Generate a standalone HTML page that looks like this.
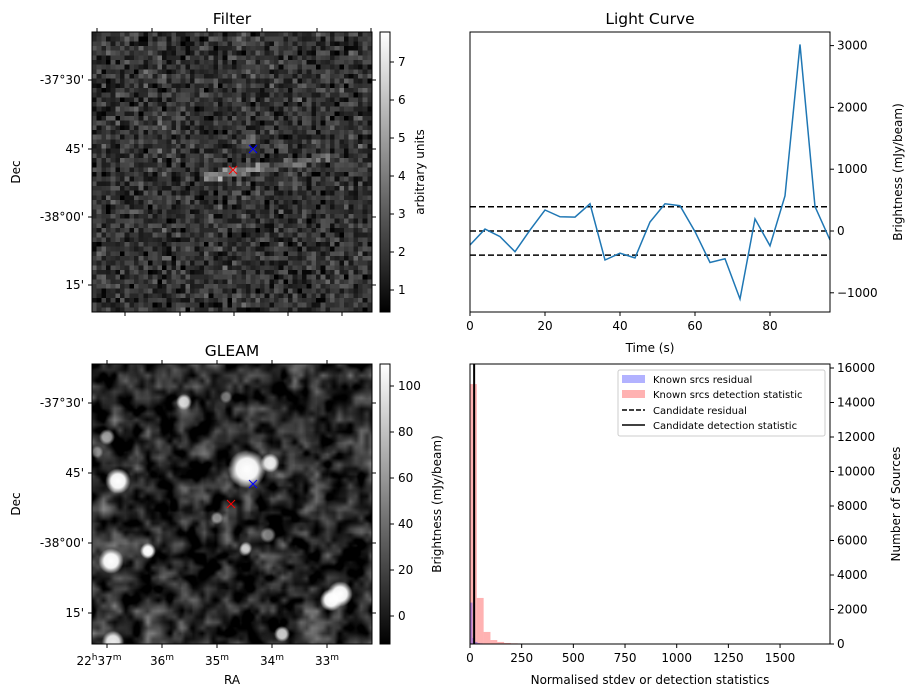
<!DOCTYPE html>
<html><head><meta charset="utf-8"><style>
body{margin:0;background:#fff;width:916px;height:699px;overflow:hidden;position:relative;font-family:"DejaVu Sans","Liberation Sans",sans-serif}
canvas{position:absolute}
svg{position:absolute;left:0;top:0}
text{font-family:"DejaVu Sans","Liberation Sans",sans-serif;fill:#000}
</style></head><body>
<canvas id="filt" width="60" height="60" style="left:92px;top:32px;width:280px;height:280px;image-rendering:pixelated"></canvas>
<canvas id="gleam" width="280" height="280" style="left:92px;top:364px;width:280px;height:280px"></canvas>
<svg id="svg" width="916" height="699">
<defs>
<linearGradient id="gray" x1="0" y1="1" x2="0" y2="0"><stop offset="0" stop-color="#000"/><stop offset="1" stop-color="#fff"/></linearGradient>
</defs>
<g id="g"></g>
</svg>
<script>
// ---- Light curve data ----
const lcTimes=[0,4,8,12,16,20,24,28,32,36,40,44,48,52,56,60,64,68,72,76,80,84,88,92,96];
const lcValues=[-226,30,-90,-335,15,340,230,225,440,-470,-360,-435,145,440,410,-10,-510,-450,-1100,195,-240,570,3020,395,-145];
const lcThresholds=[0,393,-390];
const lcYTicks=[-1000,0,1000,2000,3000];
const lcXTicks=[0,20,40,60,80];
// ---- Histogram data ----
const redBinStarts=[0,33,66,99,132,165,198,231,264,297,330,363,396,429,462,495,528,561,594,660,693,726,792,825,1056,1287,1617];
const redCounts=[15070,2670,700,230,120,60,40,30,25,20,20,20,20,20,20,20,20,20,20,20,20,20,20,20,20,20,20];
const redBinWidth=33;
const blueBinStarts=[0,12,24,36,48,60,90];
const blueCounts=[2400,350,120,60,40,30,20];
const blueBinWidth=12;
const candidateStat=20;
const histXTicks=[0,250,500,750,1000,1250,1500];
const histYTicks=[0,2000,4000,6000,8000,10000,12000,14000,16000];
const filterCbarTicks=[1,2,3,4,5,6,7];
const gleamCbarTicks=[0,20,40,60,80,100];

const NS='http://www.w3.org/2000/svg';
const G=document.getElementById('g');
function el(tag,attrs,name,inter,txt){const e=document.createElementNS(NS,tag);for(const k in attrs)e.setAttribute(k,attrs[k]);


if(txt!==undefined)e.textContent=txt;G.appendChild(e);return e;}
function line(x1,y1,x2,y2,name,extra){return el('line',Object.assign({x1,y1,x2,y2,stroke:'#000','stroke-width':1},extra||{}),name,false);}
function text(x,y,s,name,anchor,extra){return el('text',Object.assign({x,y,'text-anchor':anchor||'middle',style:'font-size:12px'},extra||{}),name,false,s);}

// ---- light curve ----
const lcX=t=>470+(t-0)*(360/96);
const lcY=v=>231-v*0.0618;
let pts=lcTimes.map((t,i)=>lcX(t).toFixed(1)+','+lcY(lcValues[i]).toFixed(1)).join(' ');
lcThresholds.forEach((v,i)=>line(470,lcY(v),830,lcY(v),'threshold-line-'+i,{'stroke-dasharray':'6,3','stroke-width':1.5}));
el('polyline',{points:pts,fill:'none',stroke:'#1f77b4','stroke-width':1.5},'light-curve-line',false);
el('rect',{x:470,y:32,width:360,height:280,fill:'none',stroke:'#000','stroke-width':1},'light-curve-frame',false);
lcXTicks.forEach(t=>{line(lcX(t),312,lcX(t),316,'x-tick');text(lcX(t),330,String(t),'x-tick-label');});
lcYTicks.forEach(v=>{line(830,lcY(v),834,lcY(v),'y-tick');text(837,lcY(v)+4,v<0?'\u22121000':String(v),'y-tick-label','start');});
text(650,24,'Light Curve','light-curve-title','middle',{style:'font-size:15.5px'});
text(650,352,'Time (s)','light-curve-x-title');
text(0,0,'Brightness (mJy/beam)','light-curve-y-title','middle',{transform:'translate(902,172) rotate(-90)'});

// ---- histogram ----
const hX=v=>470+v*0.2067;
const hY=c=>644-c*0.01725;
redBinStarts.forEach((b,i)=>el('rect',{x:hX(b),y:hY(redCounts[i]),width:redBinWidth*0.2067,height:644-hY(redCounts[i]),fill:'#ff0000','fill-opacity':0.3},'red-bar',false));
blueBinStarts.forEach((b,i)=>el('rect',{x:hX(b),y:hY(blueCounts[i]),width:blueBinWidth*0.2067,height:644-hY(blueCounts[i]),fill:'#0000ff','fill-opacity':0.3},'blue-bar',false));
line(hX(candidateStat),364,hX(candidateStat),644,'candidate-detection-line',{'stroke-width':2});
el('rect',{x:470,y:364,width:360,height:280,fill:'none',stroke:'#000'},'histogram-frame',false);
histXTicks.forEach(v=>{line(hX(v),644,hX(v),648,'x-tick');text(hX(v),662,String(v),'x-tick-label');});
histYTicks.forEach(v=>{line(830,hY(v),834,hY(v),'y-tick');text(837,hY(v)+4,String(v),'y-tick-label','start');});
text(650,684,'Normalised stdev or detection statistics','histogram-x-title');
text(0,0,'Number of Sources','histogram-y-title','middle',{transform:'translate(900,504) rotate(-90)'});
// legend
el('rect',{x:618,y:370,width:207,height:66,fill:'#fff','fill-opacity':0.8,stroke:'#ccc',rx:2},'legend-box',false);
el('rect',{x:622,y:375,width:23,height:8,fill:'#0000ff','fill-opacity':0.3},'legend-blue-patch',false);
el('rect',{x:622,y:390,width:23,height:8,fill:'#ff0000','fill-opacity':0.3},'legend-red-patch',false);
line(622,410,645,410,'legend-dashed',{'stroke-dasharray':'5,2','stroke-width':1.5});
line(622,425,645,425,'legend-solid',{'stroke-width':1.5});
[['Known srcs residual',383],['Known srcs detection statistic',398],['Candidate residual',414],['Candidate detection statistic',429]].forEach(a=>text(653,a[1],a[0],'legend-entry','start',{style:'font-size:10px'}));

// ---- image panels ----
function imgAxes(top,title,cbTicks,cbY,cbLabel,cbLabelX,bottomLabels,decOff){
 el('rect',{x:92,y:top,width:280,height:280,fill:'none',stroke:'#000'},'image-frame',false);
 text(232,top-8,title,'image-title','middle',{style:'font-size:15.5px'});
 const dec=["-37°30'","45'","-38°00'","15'"];
 decOff.forEach((d,i)=>{line(88,top+d,92,top+d,'dec-tick');line(372,top+d,376,top+d,'dec-tick');text(84,top+d+4,dec[i],'dec-label','end');});
 text(0,0,'Dec','dec-title','middle',{transform:'translate(20,'+(top+140)+') rotate(-90)'});
 if(bottomLabels){const ra=['37','36','35','34','33'];
  [107,162,217,272,327].forEach((x,i)=>{line(x,top+280,x,top+284,'ra-tick');line(x,top,x,top-4,'ra-tick');
   const t=el('text',{x:x+(i==0?-8:0),y:top+301,'text-anchor':'middle',style:'font-size:12px'},'ra-label',false);t.innerHTML=(i==0?'22<tspan dy="-5" style="font-size:9px">h</tspan><tspan dy="5">':'<tspan>')+ra[i]+'</tspan><tspan dy="-5" style="font-size:9px">m</tspan>';});
  text(232,top+320,'RA','ra-title');
 } else {[97,152,207,262,317,371].forEach(x=>line(x,top,x,top-4,'ra-tick'));[125,180,234,288,342].forEach(x=>line(x,top+280,x,top+284,'ra-tick'));}
 el('rect',{x:380,y:top,width:10,height:280,fill:'url(#gray)',stroke:'#000'},'colorbar',false);
 cbTicks.forEach(v=>{const y=cbY(v);line(390,y,394,y,'colorbar-tick');text(398,y+4,String(v),'colorbar-tick-label','start');});
 text(0,0,cbLabel,'colorbar-title','middle',{transform:'translate('+cbLabelX+','+(top+140)+') rotate(-90)'});
}
imgAxes(32,'Filter',filterCbarTicks,v=>290-(v-1)*38,'arbitrary units',424,false,[48,117,185,253]);
imgAxes(364,'GLEAM',gleamCbarTicks,v=>616-v*2.3,'Brightness (mJy/beam)',441,true,[39,109,179,249]);
function mark(x,y,c){line(x-4,y-4,x+4,y+4,'marker-'+c,{stroke:c});line(x-4,y+4,x+4,y-4,'marker-'+c,{stroke:c});}
mark(253,149,'blue');mark(233,170,'red');mark(253,484,'blue');mark(231,504,'red');

// ---- image textures (decorative) ----
let seed=7;function rnd(){seed=(seed*16807)%2147483647;return seed/2147483647;}
(function(){const c=document.getElementById('filt').getContext('2d');const d=c.createImageData(60,60);
for(let j=0;j<60;j++)for(let i=0;i<60;i++){let v=50+(rnd()+rnd()+rnd()-1.5)*50;
 const sx=i*280/60+92,sy=j*280/60+32;
 const ly=175+(sx-203)*(-20/122);
 if(sx>200&&sx<335&&Math.abs(sy-ly)<4.5)v+=(sx<260?80:45)*(0.7+rnd()*0.5);
 if(Math.abs(sx-245)<7&&Math.abs(sy-133)<7)v+=45;
 v=Math.max(0,Math.min(255,v));const k=(j*60+i)*4;d.data[k]=d.data[k+1]=d.data[k+2]=v;d.data[k+3]=255;}
c.putImageData(d,0,0);})();
(function(){const cv=document.getElementById('gleam');const c=cv.getContext('2d');
function mk(N){const g=[];for(let k=0;k<N*N;k++)g.push(rnd());return {N,g};}
const o1=mk(26),o2=mk(52);
function samp(o,x,y){const N=o.N;const fx=x/280*(N-1),fy=y/280*(N-1);const i=Math.min(N-2,Math.floor(fx)),j=Math.min(N-2,Math.floor(fy));const u=fx-i,w=fy-j;
 const g=o.g;const v0=g[j*N+i]*(1-u)+g[j*N+i+1]*u,v1=g[(j+1)*N+i]*(1-u)+g[(j+1)*N+i+1]*u;return v0*(1-w)+v1*w;}
const d=c.createImageData(280,280);
for(let y=0;y<280;y++)for(let x=0;x<280;x++){let v=samp(o1,x,y)*0.65+samp(o2,x,y)*0.35;
 v=Math.max(0,Math.min(255,(v-0.28)*190));const k=(y*280+x)*4;d.data[k]=d.data[k+1]=d.data[k+2]=v;d.data[k+3]=255;}
c.putImageData(d,0,0);
const blobs=[[247,469,12,1],[118,481,8,1],[111,561,8,1],[148,551,5,1],[184,402,5,0.8],[270,463,6,0.9],[340,594,8,1],[331,600,7,1],[282,634,5,0.8],[246,548,4,0.6],[107,437,5,0.6],[97,452,4,0.4],[226,397,4,0.4],[217,518,4,0.5],[268,535,5,0.5],[245,550,4,0.5],[113,642,7,0.9],[159,655,5,0.9]];
blobs.forEach(b=>{const x=b[0]-92,y=b[1]-364,r=b[2],a=b[3];const g=c.createRadialGradient(x,y,0,x,y,r*1.6);g.addColorStop(0,'rgba(255,255,255,'+a+')');g.addColorStop(0.55,'rgba(255,255,255,'+(a*0.95)+')');g.addColorStop(1,'rgba(255,255,255,0)');c.fillStyle=g;c.beginPath();c.arc(x,y,r*1.6,0,7);c.fill();});})();
</script>
</body></html>
